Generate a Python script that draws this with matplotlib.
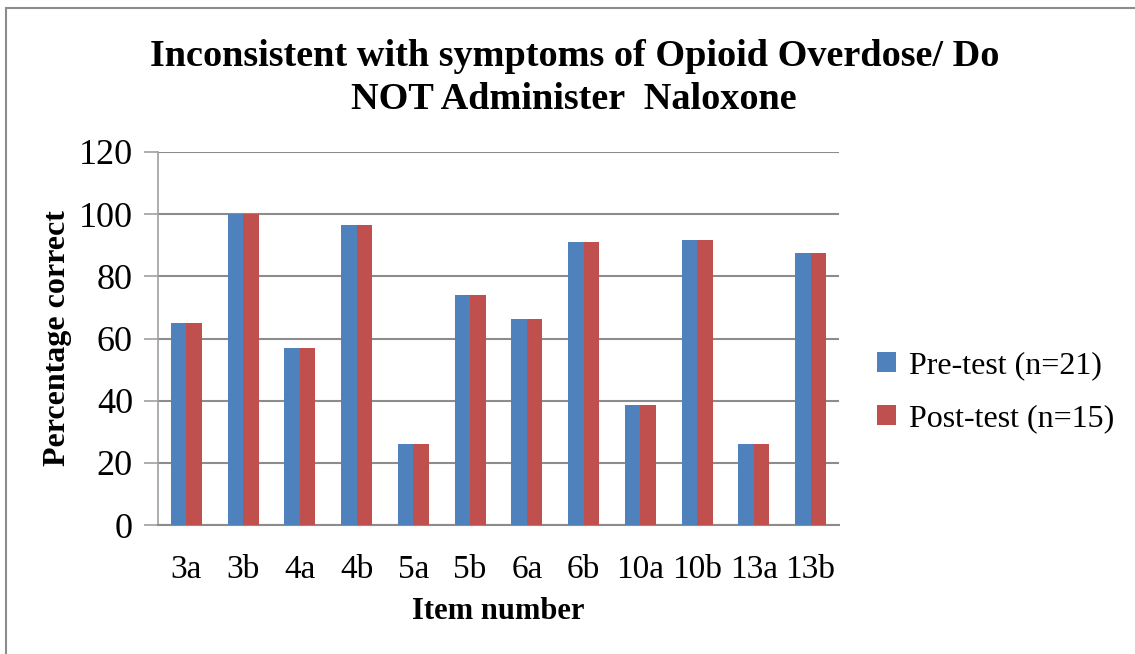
import numpy as np
import matplotlib.pyplot as plt
from matplotlib.patches import Rectangle

# Données
items = ['3a', '3b', '4a', '4b', '5a', '5b', '6a', '6b', '10a', '10b', '13a', '13b']
pre_test = [65, 100, 57.1, 96.4, 26, 74, 66.2, 91.1, 38.7, 91.8, 26, 87.4]
post_test = [65, 100, 57.1, 96.4, 26, 74, 66.2, 91.1, 38.7, 91.8, 26, 87.4]
y_ticks = [0, 20, 40, 60, 80, 100, 120]

plt.rcParams['font.family'] = ['Liberation Serif', 'DejaVu Serif']

fig = plt.figure(figsize=(11.35, 6.54), dpi=100)
ax = fig.add_axes([158 / 1135, 1 - 525 / 654, 681 / 1135, 373 / 654])

# Cadre extérieur du graphique
fig.patches.append(Rectangle((6 / 1135, -0.1), 1.2, 1 - 8 / 654 + 0.1,
                             transform=fig.transFigure, fill=False,
                             edgecolor='#8c8c8c', linewidth=1.5))

x = np.arange(len(items))
largeur = 0.275
ax.bar(x - largeur / 2, pre_test, largeur, color='#4f81bd', label='Pre-test (n=21)', zorder=3)
ax.bar(x + largeur / 2, post_test, largeur, color='#c0504d', label='Post-test (n=15)', zorder=3)

ax.set_xlim(-0.5, len(items) - 0.5)
ax.set_ylim(0, 120)
ax.set_yticks(y_ticks)
ax.set_xticks(x)
ax.set_xticklabels(items)
ax.tick_params(axis='y', labelsize=26, length=10, width=1.2, color='#a0a0a0', pad=8)
ax.tick_params(axis='x', labelsize=24, length=0, pad=21)
ax.grid(axis='y', color='#8c8c8c', linewidth=1.5, zorder=0)

for cote in ['top', 'right']:
    ax.spines[cote].set_visible(False)
ax.spines['left'].set_color('#a0a0a0')
ax.spines['left'].set_linewidth(1.2)
ax.spines['bottom'].set_color('#8c8c8c')
ax.spines['bottom'].set_linewidth(1.5)

ax.set_xlabel('Item number', fontsize=22, fontweight='bold', labelpad=9)
ax.set_ylabel('Percentage correct', fontsize=23, fontweight='bold', labelpad=5)

fig.text(0.506, 1 - 78 / 654, 'Inconsistent with symptoms of Opioid Overdose/ Do\nNOT Administer  Naloxone',
         ha='center', va='center', fontsize=27.5, fontweight='bold', linespacing=1.3)

ax.legend(loc='center left', bbox_to_anchor=(848 / 1135, 1 - 392 / 654),
          bbox_transform=fig.transFigure, frameon=False, fontsize=23,
          handlelength=0.6, handleheight=0.6, handletextpad=0.4, labelspacing=0.75)

fig.savefig('out.png', dpi=100)
